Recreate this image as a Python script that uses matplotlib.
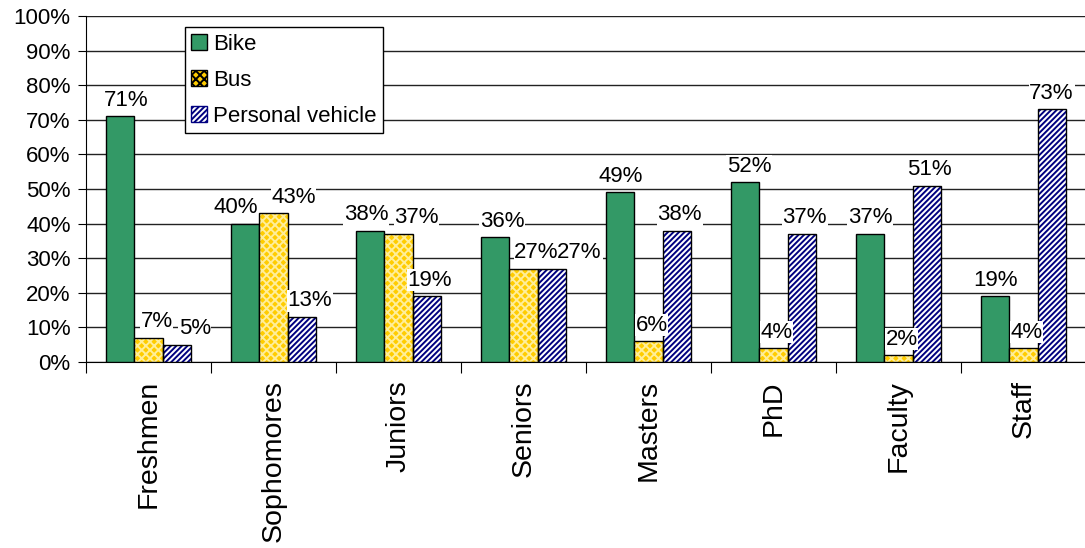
import numpy as np
import matplotlib.pyplot as plt
from matplotlib.patches import Patch

plt.rcParams['font.family'] = ['Liberation Sans', 'DejaVu Sans']
plt.rcParams['hatch.linewidth'] = 1.4

groups = ["Freshmen", "Sophomores", "Juniors", "Seniors",
          "Masters", "PhD", "Faculty", "Staff"]
bike = [71, 40, 38, 36, 49, 52, 37, 19]
bus = [7, 43, 37, 27, 6, 4, 2, 4]
personal = [5, 13, 19, 27, 38, 37, 51, 73]

# horizontal nudges (pixels) so crowded labels sit apart, like the original
nudge_bike = [6, -10, -4, 7, 0, 4, 0, 0]
nudge_bus = [8, 20, 18, 13, 3, 3, 3, 3]
nudge_personal = [18, 8, 3, 28, 3, 3, 3, 0]

green = "#339966"
yellow = "#FFCC00"
navy = "#000080"

fig = plt.figure(figsize=(10.85, 5.48), dpi=100)
ax = fig.add_axes([86 / 1085, 1 - 362 / 548, 1000 / 1085, 346 / 548])

x = np.arange(len(groups)) + 0.5
w = 0.225

# green bikes
ax.bar(x - w, bike, w, color=green, edgecolor="black", linewidth=1, zorder=3)

# bus: yellow with pale cross pattern
ax.bar(x, bus, w, color=yellow, edgecolor="#FFEE99", hatch="xxxx",
       linewidth=0, zorder=3)
ax.bar(x, bus, w, fill=False, edgecolor="black", linewidth=1, zorder=4)

# personal vehicle: navy diagonal stripes
ax.bar(x + w, personal, w, color="white", edgecolor=navy, hatch="//////",
       linewidth=0, zorder=3)
ax.bar(x + w, personal, w, fill=False, edgecolor="black", linewidth=1, zorder=4)

# value labels
for offs, vals, nudges in [(-w, bike, nudge_bike), (0, bus, nudge_bus),
                           (w, personal, nudge_personal)]:
    for xi, v, n in zip(x + offs, vals, nudges):
        ax.annotate(f"{v}%", (xi, v), xytext=(n * 0.72, 4),
                    textcoords="offset points", ha="center", va="bottom",
                    fontsize=16, zorder=5, annotation_clip=False,
                    bbox=dict(facecolor="white", edgecolor="none", pad=0.5))

ax.set_xlim(0, len(groups))
ax.set_ylim(0, 100)
ax.set_yticks(np.arange(0, 101, 10))
ax.set_yticklabels([f"{t}%" for t in range(0, 101, 10)], fontsize=16)
ax.yaxis.grid(True, color="#222222", linewidth=1, zorder=0)
ax.set_axisbelow(True)

ax.set_xticks(np.arange(0, len(groups) + 1))
ax.set_xticklabels([])
ax.set_xticks(x, minor=True)
ax.set_xticklabels(groups, minor=True, rotation=90, fontsize=20.5)
ax.tick_params(axis="x", which="major", length=8, direction="out")
ax.tick_params(axis="x", which="minor", length=0, pad=13)
ax.tick_params(axis="y", length=6, direction="out", pad=5)

for s in ["top", "right"]:
    ax.spines[s].set_visible(False)
ax.spines["left"].set_color("black")
ax.spines["bottom"].set_color("black")

handles = [
    Patch(facecolor=green, edgecolor="black", label="Bike"),
    Patch(facecolor=yellow, edgecolor="black", hatch="xxxx", label="Bus"),
    Patch(facecolor="white", edgecolor=navy, hatch="//////", label="Personal vehicle"),
]
leg = ax.legend(handles=handles, loc="upper left", bbox_to_anchor=(0.099, 0.967),
                borderaxespad=0, fontsize=16, fancybox=False, framealpha=1,
                edgecolor="black", handlelength=0.7, handleheight=0.7,
                handletextpad=0.3, labelspacing=0.68, borderpad=0.28)
leg.get_frame().set_linewidth(1)
leg.set_zorder(10)

fig.savefig("out.png", dpi=100)
